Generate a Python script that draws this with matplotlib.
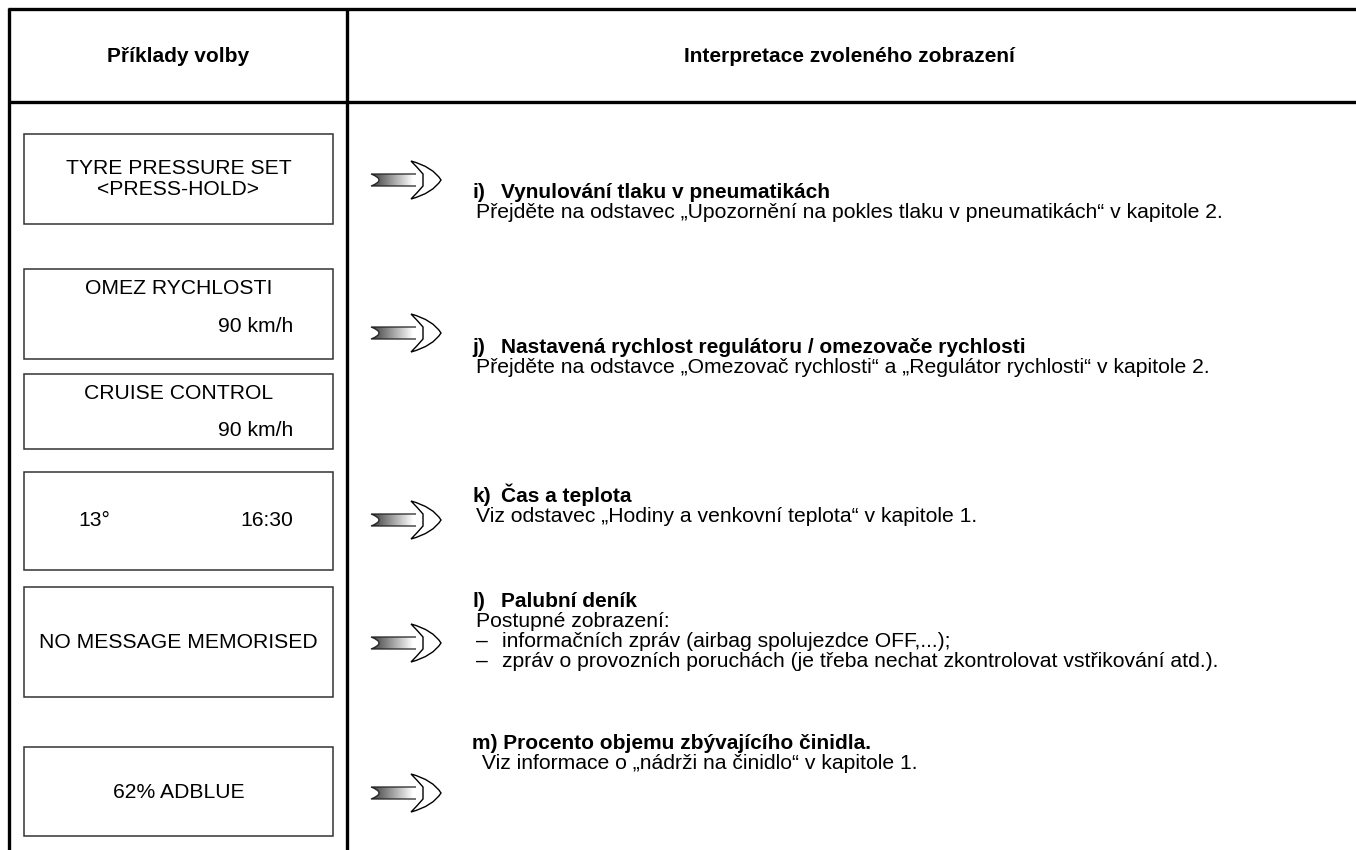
"""Display examples table: selection examples vs. interpretation (Czech manual page)."""

import numpy as np
import matplotlib
matplotlib.use("Agg")
import matplotlib.pyplot as plt
from matplotlib.path import Path
from matplotlib.patches import PathPatch, Rectangle

plt.rcParams["font.family"] = ["Liberation Sans", "DejaVu Sans"]

W, H = 1356, 850

# --- content --------------------------------------------------------------
headers = ["Příklady volby", "Interpretace zvoleného zobrazení"]

# display boxes (left column): (top, bottom) in px
box_rows = [(134, 224), (269, 359), (374, 449), (472, 570), (587, 697), (747, 836)]
box_texts = [
    [("TYRE PRESSURE SET", "c", 168), ("<PRESS-HOLD>", "c", 189)],
    [("OMEZ RYCHLOSTI", "c", 288), ("90 km/h", "r", 326)],
    [("CRUISE CONTROL", "c", 393), ("90 km/h", "r", 430)],
    [("13°", "l", 521), ("16:30", "r", 521)],
    [("NO MESSAGE MEMORISED", "c", 643)],
    [("62% ADBLUE", "c", 793)],
]

arrow_y = [180, 333, 520, 643, 793]

# right column: label, title, body lines, y of title
items = [
    ("i)", "Vynulování tlaku v pneumatikách",
     ["Přejděte na odstavec „Upozornění na pokles tlaku v pneumatikách“ v kapitole 2."], 192),
    ("j)", "Nastavená rychlost regulátoru / omezovače rychlosti",
     ["Přejděte na odstavce „Omezovač rychlosti“ a „Regulátor rychlosti“ v kapitole 2."], 347),
    ("k)", "Čas a teplota",
     ["Viz odstavec „Hodiny a venkovní teplota“ v kapitole 1."], 496),
    ("l)", "Palubní deník",
     ["Postupné zobrazení:",
      "–\tinformačních zpráv (airbag spolujezdce OFF,...);",
      "–\tzpráv o provozních poruchách (je třeba nechat zkontrolovat vstřikování atd.)."], 601),
    ("m)", "Procento objemu zbývajícího činidla.",
     [" Viz informace o „nádrži na činidlo“ v kapitole 1."], 743),
]

LINE = 20
FS_HEAD = 15
FS_BODY = 15.2
FS_BOX = 15.2

fig = plt.figure(figsize=(W / 100, H / 100), dpi=100)
ax = fig.add_axes([0, 0, 1, 1])
ax.set_xlim(0, W)
ax.set_ylim(H, 0)
ax.axis("off")

# --- frame lines ----------------------------------------------------------
lw = 2.4
ax.plot([8, W], [9, 9], color="black", lw=lw, solid_capstyle="butt")
ax.plot([8, W], [102, 102], color="black", lw=lw, solid_capstyle="butt")
ax.plot([9, 9], [8, H], color="black", lw=lw, solid_capstyle="butt")
ax.plot([347, 347], [8, H], color="black", lw=lw, solid_capstyle="butt")

ax.text(178, 56, headers[0], ha="center", va="center", fontsize=FS_HEAD, fontweight="bold")
ax.text(849, 56, headers[1], ha="center", va="center", fontsize=FS_HEAD, fontweight="bold")

# --- display boxes --------------------------------------------------------
BX0, BX1 = 24, 333
for (top, bot), lines in zip(box_rows, box_texts):
    ax.add_patch(Rectangle((BX0, top), BX1 - BX0, bot - top, fill=False,
                           edgecolor="#333333", lw=1.1))
    for txt, al, y in lines:
        if al == "c":
            ax.text((BX0 + BX1) / 2, y, txt, ha="center", va="center", fontsize=FS_BOX)
        elif al == "r":
            ax.text(293, y, txt, ha="right", va="center", fontsize=FS_BOX)
        else:
            ax.text(78, y, txt, ha="left", va="center", fontsize=FS_BOX)


# --- arrows ---------------------------------------------------------------
def draw_arrow(x0, yc):
    # shaft with a concave tail and grey gradient
    shaft = Path([(x0, yc - 6), (x0 + 53, yc - 6), (x0 + 53, yc + 6), (x0, yc + 6),
                  (x0 + 16, yc), (x0, yc - 6)],
                 [Path.MOVETO, Path.LINETO, Path.LINETO, Path.LINETO,
                  Path.CURVE3, Path.CURVE3])
    grad = np.linspace(0, 1, 64)[None, :]
    im = ax.imshow(grad, cmap="gray", vmin=-0.25, vmax=0.8,
                   extent=(x0, x0 + 53, yc + 6, yc - 6), aspect="auto", zorder=2)
    clip = PathPatch(shaft, transform=ax.transData, facecolor="none", edgecolor="none")
    ax.add_patch(clip)
    im.set_clip_path(clip)
    edge = Path([(x0 + 45, yc - 6), (x0, yc - 6), (x0 + 16, yc), (x0, yc + 6), (x0 + 45, yc + 6)],
                [Path.MOVETO, Path.LINETO, Path.CURVE3, Path.CURVE3, Path.LINETO])
    ax.add_patch(PathPatch(edge, facecolor="none", edgecolor="#222222", lw=0.9, zorder=3))
    # outlined head
    head = Path([(x0 + 52, yc - 6), (x0 + 46, yc - 13), (x0 + 40, yc - 19),
                 (x0 + 62, yc - 13), (x0 + 70, yc),
                 (x0 + 62, yc + 13), (x0 + 40, yc + 19),
                 (x0 + 46, yc + 13), (x0 + 52, yc + 6), (x0 + 52, yc - 6)],
                [Path.MOVETO, Path.CURVE3, Path.CURVE3,
                 Path.CURVE3, Path.CURVE3,
                 Path.CURVE3, Path.CURVE3,
                 Path.CURVE3, Path.CURVE3, Path.CLOSEPOLY])
    ax.add_patch(PathPatch(head, facecolor="white", edgecolor="black", lw=1.0, zorder=4))


for y in arrow_y:
    draw_arrow(371, y)

# --- interpretation text --------------------------------------------------
XL, XT, XB = 472, 501, 476
for label, title, body, y in items:
    base = y + 6
    if label == "m)":
        ax.text(XL, base, f"{label} {title}", ha="left", va="baseline",
                fontsize=FS_HEAD, fontweight="bold")
    else:
        ax.text(XL, base, label, ha="left", va="baseline", fontsize=FS_HEAD, fontweight="bold")
        ax.text(XT, base, title, ha="left", va="baseline", fontsize=FS_HEAD, fontweight="bold")
    for k, line in enumerate(body):
        yy = base + LINE * (k + 1)
        if "\t" in line:
            dash, rest = line.split("\t")
            ax.text(XB, yy, dash, ha="left", va="baseline", fontsize=FS_BODY)
            ax.text(XB + 26, yy, rest, ha="left", va="baseline", fontsize=FS_BODY)
        else:
            ax.text(XB, yy, line, ha="left", va="baseline", fontsize=FS_BODY)

fig.savefig("out.png", dpi=100)
